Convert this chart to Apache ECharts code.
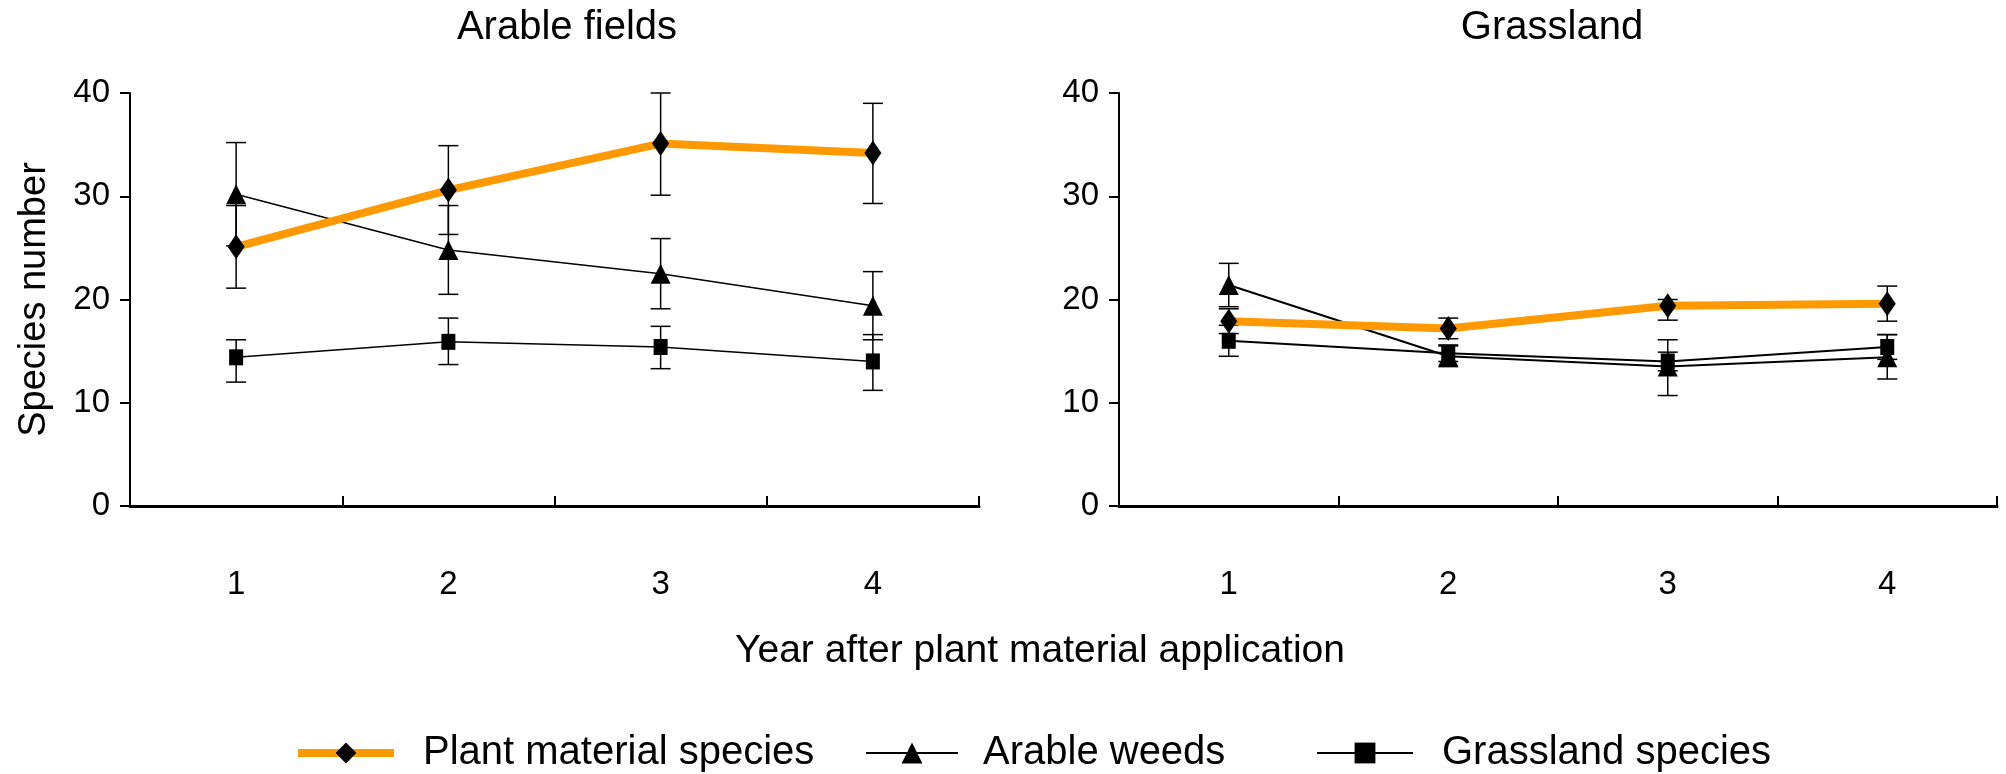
<!DOCTYPE html>
<html>
<head>
<meta charset="utf-8">
<script src="https://cdn.jsdelivr.net/npm/echarts@6/dist/echarts.min.js"></script>
<style>html,body{margin:0;padding:0;background:#fff;}#c{width:2006px;height:774px;}</style>
</head>
<body>
<div id="c"></div>
<script>
// ---- data ----
const years = ['1', '2', '3', '4'];
const yTicks = [0, 10, 20, 30, 40];
const panelTitles = ['Arable fields', 'Grassland'];
const seriesNames = ['Plant material species', 'Arable weeds', 'Grassland species'];

// Arable fields
const arablePlant = [25.1, 30.6, 35.1, 34.2];
const arablePlantLo = [21.1, 26.3, 30.1, 29.3];
const arablePlantHi = [29.1, 34.9, 40.0, 39.0];
const arableWeeds = [30.2, 24.8, 22.5, 19.4];
const arableWeedsLo = [25.2, 20.5, 19.1, 16.1];
const arableWeedsHi = [35.2, 29.1, 25.9, 22.7];
const arableGrass = [14.4, 15.9, 15.4, 14.0];
const arableGrassLo = [12.0, 13.7, 13.3, 11.2];
const arableGrassHi = [16.1, 18.2, 17.4, 16.6];

// Grassland
const grassPlant = [17.9, 17.2, 19.4, 19.6];
const grassPlantLo = [16.7, 16.2, 18.0, 17.9];
const grassPlantHi = [19.1, 18.2, 20.0, 21.3];
const grassWeeds = [21.4, 14.5, 13.5, 14.4];
const grassWeedsLo = [19.3, 13.5, 10.7, 12.3];
const grassWeedsHi = [23.5, 15.5, 16.1, 16.6];
const grassGrass = [16.0, 14.8, 14.0, 15.4];
const grassGrassLo = [14.5, 14.0, 13.1, 14.2];
const grassGrassHi = [17.5, 15.6, 14.9, 16.6];

// ---- chart ----
const FONT = "'Liberation Sans', Arial, sans-serif";
const chart = echarts.init(document.getElementById('c'), null, {renderer: 'canvas'});

function errData(lo, hi) {
  return lo.map((l, i) => [i, l, hi[i]]);
}
function errSeries(idx, lo, hi, lw) {
  return {
    type: 'custom',
    xAxisIndex: idx, yAxisIndex: idx,
    data: errData(lo, hi),
    encode: {x: 0, y: [1, 2]},
    z: 1,
    silent: true,
    renderItem: function (params, api) {
      const i = api.value(0);
      const p1 = api.coord([i, api.value(1)]);
      const p2 = api.coord([i, api.value(2)]);
      const w = 10;
      const st = {stroke: '#000', lineWidth: lw};
      return {
        type: 'group',
        children: [
          {type: 'line', shape: {x1: p1[0], y1: p1[1], x2: p2[0], y2: p2[1]}, style: st},
          {type: 'line', shape: {x1: p1[0] - w, y1: p1[1], x2: p1[0] + w, y2: p1[1]}, style: st},
          {type: 'line', shape: {x1: p2[0] - w, y1: p2[1], x2: p2[0] + w, y2: p2[1]}, style: st}
        ]
      };
    }
  };
}
function lineSeries(idx, name, data, kind, lw) {
  const s = {
    type: 'line', name: name, xAxisIndex: idx, yAxisIndex: idx, data: data,
    showAllSymbol: true, animation: false, z: 3
  };
  if (kind === 'plant') {
    s.symbol = 'diamond'; s.symbolSize = [17, 25];
    s.lineStyle = {color: '#FF9900', width: 8};
    s.itemStyle = {color: '#000'};
    s.z = 5;
  } else if (kind === 'weeds') {
    s.symbol = 'triangle'; s.symbolSize = [20, 20];
    s.lineStyle = {color: '#000', width: lw};
    s.itemStyle = {color: '#000'};
  } else {
    s.symbol = 'rect'; s.symbolSize = [14, 16];
    s.lineStyle = {color: '#000', width: lw};
    s.itemStyle = {color: '#000'};
  }
  return s;
}

const grids = [
  {left: 130, top: 93, width: 849, height: 413},
  {left: 1119, top: 93, width: 878, height: 413}
];
const xAxes = grids.map((g, i) => ({
  type: 'category', gridIndex: i, data: years, boundaryGap: true,
  axisLine: {show: true, lineStyle: {color: '#000', width: 3}},
  axisTick: {show: true, inside: true, length: 10, lineStyle: {color: '#000', width: 2}},
  axisLabel: {color: '#000', fontSize: 33, fontFamily: FONT, margin: 62},
  splitLine: {show: false}
}));
const yAxes = grids.map((g, i) => ({
  type: 'value', gridIndex: i, min: yTicks[0], max: yTicks[yTicks.length - 1], interval: 10,
  axisLine: {show: true, lineStyle: {color: '#000', width: 2}},
  axisTick: {show: true, inside: false, length: 10, lineStyle: {color: '#000', width: 2}},
  axisLabel: {color: '#000', fontSize: 33, fontFamily: FONT, margin: 20},
  splitLine: {show: false},
  name: i === 0 ? 'Species number' : '',
  nameLocation: 'middle', nameGap: 76, nameRotate: 90,
  nameTextStyle: {color: '#000', fontSize: 38, fontFamily: FONT}
}));

const legendBase = {
  orient: 'horizontal', top: 728, itemWidth: 96, itemHeight: 26, itemGap: 0,
  textStyle: {color: '#000', fontSize: 40, fontFamily: FONT, padding: [0, 0, 0, 24]},
  selectedMode: false
};

const option = {
  animation: false,
  backgroundColor: '#fff',
  grid: grids,
  xAxis: xAxes,
  yAxis: yAxes,
  legend: [
    Object.assign({}, legendBase, {left: 289, data: [seriesNames[0]], lineStyle: {width: 8, color: '#FF9900'}}),
    Object.assign({}, legendBase, {left: 860, itemWidth: 92, data: [seriesNames[1]], textStyle: Object.assign({}, legendBase.textStyle, {padding: [0, 0, 0, 20]})}),
    Object.assign({}, legendBase, {left: 1311, itemWidth: 96, data: [seriesNames[2]]})
  ],
  graphic: [
    {type: 'text', x: 567, y: 28, style: {text: panelTitles[0], font: '40px ' + FONT, fill: '#000', align: 'center', verticalAlign: 'middle', textAlign: 'center', textVerticalAlign: 'middle'}},
    {type: 'text', x: 1552, y: 28, style: {text: panelTitles[1], font: '40px ' + FONT, fill: '#000', align: 'center', verticalAlign: 'middle', textAlign: 'center', textVerticalAlign: 'middle'}},
    {type: 'text', x: 1040, y: 651, style: {text: 'Year after plant material application', font: '39px ' + FONT, fill: '#000', align: 'center', verticalAlign: 'middle', textAlign: 'center', textVerticalAlign: 'middle'}}
  ],
  series: [
    errSeries(0, arableGrassLo, arableGrassHi, 1.5),
    errSeries(0, arableWeedsLo, arableWeedsHi, 1.5),
    errSeries(0, arablePlantLo, arablePlantHi, 1.5),
    errSeries(1, grassGrassLo, grassGrassHi, 1.5),
    errSeries(1, grassWeedsLo, grassWeedsHi, 1.5),
    errSeries(1, grassPlantLo, grassPlantHi, 1.5),
    lineSeries(0, seriesNames[2], arableGrass, 'grass', 1.5),
    lineSeries(0, seriesNames[1], arableWeeds, 'weeds', 1.5),
    lineSeries(0, seriesNames[0], arablePlant, 'plant', 1.5),
    lineSeries(1, seriesNames[2], grassGrass, 'grass', 2),
    lineSeries(1, seriesNames[1], grassWeeds, 'weeds', 2),
    lineSeries(1, seriesNames[0], grassPlant, 'plant', 2)
  ]
};
chart.setOption(option);
</script>
</body>
</html>
